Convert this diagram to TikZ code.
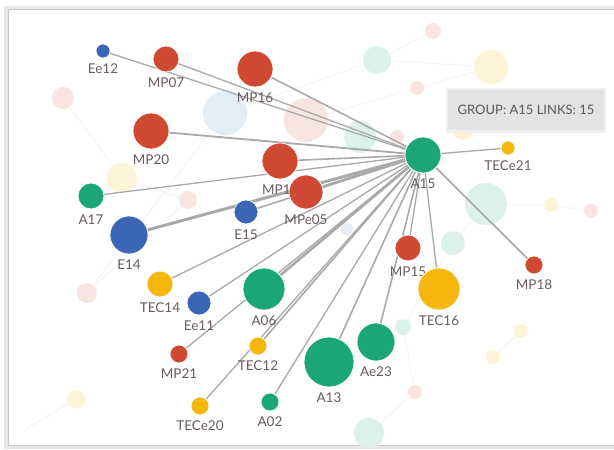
\documentclass[tikz,border=0pt]{standalone}
\usepackage{fontspec}
\setmainfont{Lato}
\usetikzlibrary{calc}
\definecolor{cR}{HTML}{D04A33}
\definecolor{cB}{HTML}{3B65B5}
\definecolor{cG}{HTML}{1BA67A}
\definecolor{cY}{HTML}{F5B70D}
\definecolor{lblc}{HTML}{6A5C5C}
\definecolor{edgec}{HTML}{A9A9A9}
\definecolor{fB}{HTML}{E4ECF6}
\definecolor{fP}{HTML}{F8E4E0}
\definecolor{fG}{HTML}{DCF2E9}
\definecolor{fY}{HTML}{FDF4D8}
\definecolor{faint}{HTML}{F2F2F2}
\pgfdeclarelayer{bgl}
\pgfdeclarelayer{edl}
\pgfsetlayers{bgl,edl,main}
\tikzset{
  nd/.style={circle, inner sep=0pt, draw=white, line width=0.7pt},
  lbl/.style={font=\fontsize{13.5}{13.5}\selectfont, text=lblc, inner sep=0pt, text depth=0pt},
  ed/.style={draw=edgec, line width=1.3pt},
  fe/.style={draw=faint, line width=0.8pt},
  fc/.style={circle, inner sep=0pt}
}
\newcommand\gn[6]{%
  \node[nd, fill=#5, minimum size=2*#4pt] (#1) at (#2,#3) {};
  \node[lbl] (#1l) at (#2,#3+#4+11) {#6};
}
\newcommand\fcirc[5]{%
  \node[fc, fill=#5, minimum size=2*#4pt] (#1) at (#2,#3) {};
}
\begin{document}
\begin{tikzpicture}[x=1pt,y=-1pt]
\useasboundingbox (0,0) rectangle (614,450);
% panel
\begin{pgfonlayer}{bgl}
\fill[white] (0,0) rectangle (614,450);
\fill[gray!18] (4,6) rectangle (620,449);
\fill[white] (8,9) rectangle (620,445);
\draw[gray!45, line width=0.8pt] (620,9) -- (8,9) -- (8,445) -- (620,445);
% faint background circles
\fcirc{b1}{225}{113}{22}{fB}
\fcirc{b2}{306}{120}{22}{fP}
\fcirc{b3}{377}{60}{14}{fG}
\fcirc{b4}{491}{67}{17}{fY}
\fcirc{b5}{63}{98}{11}{fP}
\fcirc{b6}{122}{178}{15}{fY}
\fcirc{b7}{188}{200}{9}{fP}
\fcirc{b8}{360}{137}{16}{fG}
\fcirc{b9}{397}{137}{7}{fP}
\fcirc{b10}{433}{31}{8}{fP}
\fcirc{b11}{417}{88}{7}{fP}
\fcirc{b12}{463}{130}{10}{fY}
\fcirc{b13}{486}{204}{21}{fG}
\fcirc{b14}{551}{205}{7}{fY}
\fcirc{b15}{591}{211}{7}{fP}
\fcirc{b16}{347}{229}{6}{fB}
\fcirc{b17}{453}{243}{12}{fG}
\fcirc{b18}{403}{327}{8}{fG}
\fcirc{b19}{521}{331}{7}{fY}
\fcirc{b20}{493}{357}{7}{fY}
\fcirc{b21}{415}{392}{7}{fP}
\fcirc{b22}{87}{293}{10}{fP}
\fcirc{b23}{76}{399}{9}{fY}
\begin{scope}
\clip (8,9) rectangle (620,445);
\fcirc{b24}{369}{433}{15}{fG}
\end{scope}
% faint links
\draw[fe] (b5) -- (b6);
\draw[fe] (b7) -- (b22);
\draw[fe] (b22) -- (b1);
\draw[fe] (b23) -- ++(-50,30);
\draw[fe] (b3) -- (b4);
\draw[fe] (b3) -- (b1);
\draw[fe] (b13) -- (b14);
\draw[fe] (b14) -- (b15);
\draw[fe] (b21) -- (b18);
\draw[fe] (b18) -- (b17);
\draw[fe] (b19) -- (b20);
\draw[fe] (b24) -- (b21);
\draw[fe] (b11) -- (b4);
\draw[fe] (b2) -- (b11);
\draw[fe] (b6) -- (b7);
\draw[fe] (b10) -- (b3);
\draw[fe] (b13) -- (b17);
\end{pgfonlayer}
% main nodes
\gn{Ee12}{103}{51}{7}{cB}{Ee12}
\gn{MP07}{166}{59}{13}{cR}{MP07}
\gn{MP16}{255}{69}{18}{cR}{MP16}
\gn{MP20}{151}{131}{18}{cR}{MP20}
\node[nd, fill=cR, minimum size=36pt] (MP1) at (280,161) {};
\node[lbl, anchor=west] (MP1l) at (262,190) {MP1};
\gn{MPe05}{306}{192}{17}{cR}{MPe05}
\gn{A17}{91}{196}{13}{cG}{A17}
\gn{E14}{129}{235}{19}{cB}{E14}
\gn{E15}{246}{212}{12}{cB}{E15}
\gn{A15}{423}{155}{18}{cG}{A15}
\gn{TECe21}{508}{148}{7}{cY}{TECe21}
\gn{TEC14}{160}{284}{13}{cY}{TEC14}
\gn{Ee11}{199}{303}{12}{cB}{Ee11}
\gn{A06}{264}{289}{21}{cG}{A06}
\gn{MP21}{179}{354}{9}{cR}{MP21}
\gn{TEC12}{258}{346}{9}{cY}{TEC12}
\gn{TECe20}{200}{406}{9}{cY}{TECe20}
\gn{A02}{270}{402}{9}{cG}{A02}
\gn{A13}{329}{362}{25}{cG}{A13}
\gn{Ae23}{376}{342}{19}{cG}{Ae23}
\gn{MP15}{408}{248}{13}{cR}{MP15}
\gn{TEC16}{439}{289}{21}{cY}{TEC16}
\gn{MP18}{534}{265}{9}{cR}{MP18}
% links
\begin{pgfonlayer}{edl}
\draw[ed] (A15) -- (Ee12);
\draw[ed] (A15) -- (MP07);
\draw[ed, line width=1.6pt] (A15) -- (MP16);
\draw[ed, line width=1.8pt] (A15) -- (MP20);
\draw[ed, line width=1.6pt] (A15) -- (MP1);
\draw[ed, line width=2.6pt] (A15) -- (MPe05);
\draw[ed] (A15) -- (A17);
\draw[ed, line width=3pt] (A15) -- (E14);
\draw[ed, line width=1.6pt] (A15) -- (E15);
\draw[ed] (A15) -- (TECe21);
\draw[ed] (A15) -- (TEC14);
\draw[ed] (A15) -- (Ee11);
\draw[ed, line width=2.6pt] (A15) -- (A06);
\draw[ed] (A15) -- (MP21);
\draw[ed, line width=1.6pt] (A15) -- (TEC12);
\draw[ed] (A15) -- (TECe20);
\draw[ed] (A15) -- (A02);
\draw[ed, line width=1.6pt] (A15) -- (A13);
\draw[ed, line width=1.6pt] (A15) -- (Ae23);
\draw[ed] (A15) -- (MP15);
\draw[ed] (A15) -- (TEC16);
\draw[ed, line width=1.6pt, draw=gray!70] (A15) -- (MP18);
\end{pgfonlayer}
% tooltip
\fill[gray!12] (446,88) rectangle (606,133);
\node[fill=gray!22, minimum width=156pt, minimum height=40pt, inner sep=0pt,
      font=\fontsize{13}{13}\selectfont, text=black!65] (tip) at (526,110) {GROUP: A15 LINKS: 15};
\end{tikzpicture}
\end{document}
